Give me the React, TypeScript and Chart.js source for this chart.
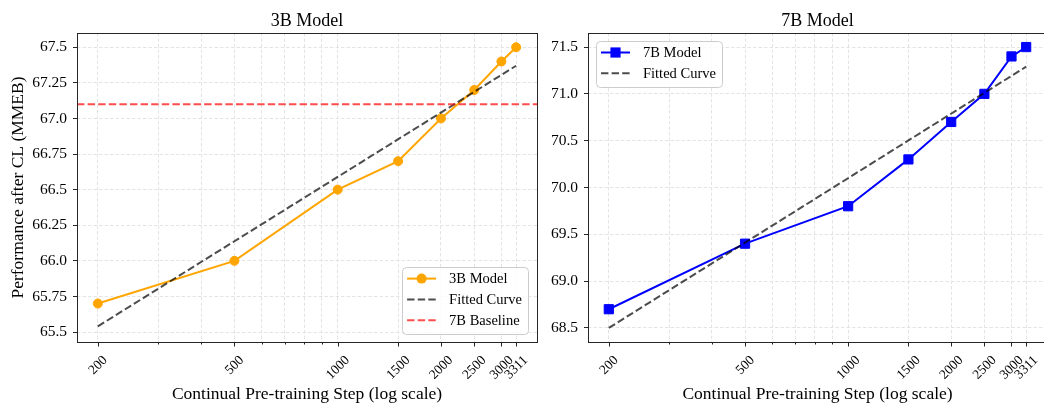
import React, { useEffect, useRef } from "react";
import { Chart, registerables } from "chart.js";
Chart.register(...registerables);

// ---------------- data ----------------
const STEPS = [200, 500, 1000, 1500, 2000, 2500, 3000, 3311];
const SCORES_3B = [65.7, 66.0, 66.5, 66.7, 67.0, 67.2, 67.4, 67.5];
const SCORES_7B = [68.7, 69.4, 69.8, 70.3, 70.7, 71.0, 71.4, 71.5];
const FIT_STEPS = [200, 3311];
const FIT_3B = [65.54, 67.37];
const FIT_7B = [68.5, 71.29];
const BASELINE_7B = 67.1;

const X_TICKS_MAJOR = [200, 500, 1000, 1500, 2000, 2500, 3000, 3311];
const X_TICKS_MINOR = [300, 400, 600, 700, 800, 900];
const Y_TICKS_3B = [65.5, 65.75, 66.0, 66.25, 66.5, 66.75, 67.0, 67.25, 67.5];
const Y_TICKS_7B = [68.5, 69.0, 69.5, 70.0, 70.5, 71.0, 71.5];
const X_RANGE = [173.9, 3809];
const Y_RANGE_3B = [65.43, 67.6];
const Y_RANGE_7B = [68.35, 71.65];

// ---------------- style ----------------
const FONT = '"Liberation Serif", "Times New Roman", serif';
const ORANGE = "#ffa500";
const BLUE = "#0000ff";
const FIT_COLOR = "rgba(0,0,0,0.7)";
const RED = "rgba(255,0,0,0.7)";
const GRID = "#e4e4e4";
const SPINE = "#262626";
const DASH = [7.4, 3.2];

const fmtY = (v: number) => {
  const s = String(Math.round(v * 100) / 100);
  return s.includes(".") ? s : s + ".0";
};

type PanelCfg = {
  title: string;
  yTitle: string | null;
  yTicks: number[];
  yRange: number[];
  yAxisWidth: number;
  padRight: number;
  legendCorner: "br" | "tl";
  datasets: any[];
};

function decorPlugin(cfg: PanelCfg) {
  return {
    id: "decor",
    afterDraw(chart: any) {
      const { ctx, chartArea: ca } = chart;
      const xs = chart.scales.x;
      ctx.save();
      ctx.setLineDash([]);
      // x tick marks
      ctx.strokeStyle = SPINE;
      ctx.lineWidth = 1;
      for (const t of xs.ticks) {
        const px = Math.round(xs.getPixelForValue(t.value)) + 0.5;
        const len = X_TICKS_MAJOR.includes(t.value) ? 4.5 : 2.5;
        ctx.beginPath();
        ctx.moveTo(px, ca.bottom);
        ctx.lineTo(px, ca.bottom + len);
        ctx.stroke();
      }
      // spines
      ctx.strokeRect(
        Math.round(ca.left) + 0.5,
        Math.round(ca.top) + 0.5,
        Math.round(ca.right - ca.left),
        Math.round(ca.bottom - ca.top)
      );
      // x tick labels (rotated 45, centered)
      ctx.fillStyle = "#000";
      ctx.font = `13.5px ${FONT}`;
      ctx.textAlign = "center";
      ctx.textBaseline = "alphabetic";
      for (const v of X_TICKS_MAJOR) {
        const label = String(v);
        const m = ctx.measureText(label);
        const w = m.width;
        const asc = m.actualBoundingBoxAscent;
        const desc = m.actualBoundingBoxDescent;
        const bb = (w + asc + desc) * Math.SQRT1_2;
        const px = xs.getPixelForValue(v);
        const cy = ca.bottom + 13 + bb / 2;
        ctx.save();
        ctx.translate(px, cy);
        ctx.rotate(-Math.PI / 4);
        ctx.fillText(label, 0, (asc - desc) / 2);
        ctx.restore();
      }
      // x axis title
      const cx = (ca.left + ca.right) / 2;
      ctx.font = `17.5px ${FONT}`;
      ctx.fillText("Continual Pre-training Step (log scale)", cx, 399);
      // panel title
      ctx.font = `18px ${FONT}`;
      ctx.fillText(cfg.title, cx, 26);
      // legend
      drawLegend(chart, cfg.legendCorner);
      ctx.restore();
    },
  };
}

function drawLegend(chart: any, corner: "br" | "tl") {
  const { ctx, chartArea: ca } = chart;
  const items = chart.data.datasets.map((ds: any) => ({
    label: ds.label,
    color: ds.borderColor,
    dash: ds.borderDash || [],
    width: ds.borderWidth,
    style: ds.pointRadius ? ds.pointStyle : null,
    radius: ds.pointRadius,
  }));
  ctx.font = `14.5px ${FONT}`;
  const textW = Math.max(...items.map((i: any) => ctx.measureText(i.label).width));
  const w = 5 + 29 + 13 + textW + 6;
  const pitch = 20.8;
  const h = items.length * pitch + 4.5;
  const x0 = corner === "br" ? ca.right - 9 - w : ca.left + 8;
  const y0 = corner === "br" ? ca.bottom - 8 - h : ca.top + 8;
  ctx.setLineDash([]);
  ctx.beginPath();
  ctx.roundRect(Math.round(x0) + 0.5, Math.round(y0) + 0.5, Math.round(w), Math.round(h), 4);
  ctx.fillStyle = "rgba(255,255,255,0.8)";
  ctx.fill();
  ctx.strokeStyle = "#cccccc";
  ctx.lineWidth = 1;
  ctx.stroke();
  items.forEach((it: any, i: number) => {
    const cy = y0 + 11.5 + i * pitch;
    const sx = x0 + 5;
    ctx.setLineDash(it.dash);
    ctx.strokeStyle = it.color;
    ctx.lineWidth = it.width;
    ctx.beginPath();
    ctx.moveTo(sx, cy);
    ctx.lineTo(sx + 29, cy);
    ctx.stroke();
    ctx.setLineDash([]);
    if (it.style) {
      ctx.fillStyle = it.color;
      ctx.beginPath();
      if (it.style === "rect") {
        const s = it.radius * Math.SQRT1_2 + 0.5;
        ctx.rect(sx + 14.5 - s, cy - s, 2 * s, 2 * s);
      } else {
        ctx.arc(sx + 14.5, cy, it.radius + 0.5, 0, Math.PI * 2);
      }
      ctx.fill();
    }
    ctx.fillStyle = "#000";
    ctx.textAlign = "left";
    ctx.textBaseline = "middle";
    ctx.fillText(it.label, sx + 42, cy + 1);
  });
}

function makeConfig(cfg: PanelCfg): any {
  return {
    type: "line",
    data: { datasets: cfg.datasets },
    options: {
      animation: false,
      responsive: false,
      devicePixelRatio: 1,
      layout: { padding: { left: 0, right: cfg.padRight, top: 33, bottom: 0 } },
      plugins: { legend: { display: false }, tooltip: { enabled: false }, title: { display: false } },
      scales: {
        x: {
          type: "logarithmic",
          min: X_RANGE[0],
          max: X_RANGE[1],
          afterBuildTicks: (s: any) => {
            s.ticks = [...X_TICKS_MINOR, ...X_TICKS_MAJOR]
              .sort((a, b) => a - b)
              .map((v) => ({ value: v }));
          },
          afterFit: (s: any) => {
            s.height = 63;
          },
          ticks: { display: false, autoSkip: false },
          grid: { color: GRID, lineWidth: 1, drawTicks: false },
          border: { display: false, dash: [3.5, 2] },
        },
        y: {
          min: cfg.yRange[0],
          max: cfg.yRange[1],
          afterBuildTicks: (s: any) => {
            s.ticks = cfg.yTicks.map((v) => ({ value: v }));
          },
          afterFit: (s: any) => {
            s.width = cfg.yAxisWidth;
          },
          ticks: {
            callback: (v: number) => fmtY(v),
            color: "#000",
            font: { family: FONT, size: 15.5 },
            padding: 6,
            autoSkip: false,
          },
          grid: { color: GRID, lineWidth: 1, drawTicks: true, tickLength: 4, tickColor: SPINE, tickWidth: 1 },
          border: { display: false, dash: [3.5, 2] },
          title: cfg.yTitle
            ? {
                display: true,
                text: cfg.yTitle,
                color: "#000",
                font: { family: FONT, size: 17.5 },
                padding: { top: 7.5, bottom: 0 },
              }
            : { display: false },
        },
      },
    },
    plugins: [decorPlugin(cfg)],
  };
}

const pts = (xs: number[], ys: number[]) => xs.map((x, i) => ({ x, y: ys[i] }));

const cfg3B: PanelCfg = {
  title: "3B Model",
  yTitle: "Performance after CL (MMEB)",
  yTicks: Y_TICKS_3B,
  yRange: Y_RANGE_3B,
  yAxisWidth: 77,
  padRight: 9,
  legendCorner: "br",
  datasets: [
    {
      label: "3B Model",
      data: pts(STEPS, SCORES_3B),
      borderColor: ORANGE,
      backgroundColor: ORANGE,
      borderWidth: 2,
      pointStyle: "circle",
      pointRadius: 4.5,
      pointBorderWidth: 1,
      order: 3,
    },
    {
      label: "Fitted Curve",
      data: pts(FIT_STEPS, FIT_3B),
      borderColor: FIT_COLOR,
      borderDash: DASH,
      borderWidth: 2,
      pointRadius: 0,
      order: 2,
    },
    {
      label: "7B Baseline",
      data: pts(X_RANGE, [BASELINE_7B, BASELINE_7B]),
      borderColor: RED,
      borderDash: DASH,
      borderWidth: 2,
      pointRadius: 0,
      order: 1,
    },
  ],
};

const cfg7B: PanelCfg = {
  title: "7B Model",
  yTitle: null,
  yTicks: Y_TICKS_7B,
  yRange: Y_RANGE_7B,
  yAxisWidth: 43,
  padRight: 13,
  legendCorner: "tl",
  datasets: [
    {
      label: "7B Model",
      data: pts(STEPS, SCORES_7B),
      borderColor: BLUE,
      backgroundColor: BLUE,
      borderWidth: 2,
      pointStyle: "rect",
      pointRadius: 6.5,
      pointBorderWidth: 1,
      order: 3,
    },
    {
      label: "Fitted Curve",
      data: pts(FIT_STEPS, FIT_7B),
      borderColor: FIT_COLOR,
      borderDash: DASH,
      borderWidth: 2,
      pointRadius: 0,
      order: 2,
    },
  ],
};

function Panel({ cfg, left, width }: { cfg: PanelCfg; left: number; width: number }) {
  const ref = useRef<HTMLCanvasElement>(null);
  useEffect(() => {
    if (!ref.current) return;
    const chart = new Chart(ref.current, makeConfig(cfg));
    return () => chart.destroy();
  }, [cfg]);
  return (
    <canvas
      ref={ref}
      width={width}
      height={405}
      style={{ position: "absolute", left, top: 0, width, height: 405 }}
    />
  );
}

export default function App() {
  return (
    <div
      style={{
        position: "fixed",
        left: 0,
        top: 0,
        width: 1044,
        height: 405,
        overflow: "hidden",
        background: "#fff",
      }}
    >
      <Panel cfg={cfg3B} left={0} width={546} />
      <Panel cfg={cfg7B} left={545} width={515} />
    </div>
  );
}
